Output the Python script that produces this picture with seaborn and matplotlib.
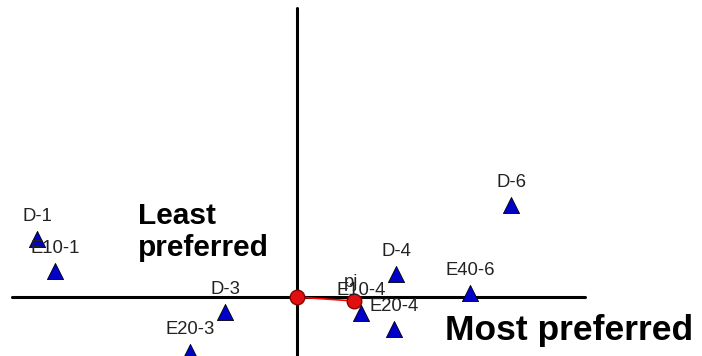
import matplotlib
matplotlib.use("Agg")
import matplotlib.pyplot as plt
import seaborn as sns
import pandas as pd

sns.set_theme(style="white")
plt.rcParams["font.family"] = ["Liberation Sans", "DejaVu Sans"]

# Alternatives positioned in the preference map
labels = ["D-1", "E10-1", "D-3", "E20-3", "D-4", "E40-6", "D-6", "E20-4", "E10-4"]
dim1 = [-2.60, -2.42, -0.72, -1.07, 0.99, 1.73, 2.14, 0.97, 0.64]
dim2 = [0.58, 0.26, -0.15, -0.55, 0.23, 0.04, 0.92, -0.32, -0.16]

# Ideal-point vector: origin and pj
vec_labels = ["", "pj"]
vec_x = [0.0, 0.57]
vec_y = [0.0, -0.04]

alts = pd.DataFrame({"label": labels, "x": dim1, "y": dim2})
vec = pd.DataFrame({"label": vec_labels, "x": vec_x, "y": vec_y})

fig = plt.figure(figsize=(7.02, 3.56), dpi=100)
ax = fig.add_axes([0, 0, 1, 1])
ax.set_xlim(-2.97, 4.05)
ax.set_ylim(-0.59, 2.97)
ax.axis("off")

# Axis cross
ax.plot([-2.85, 2.88], [0, 0], color="black", lw=2.2, zorder=1)
ax.plot([0, 0], [-0.59, 2.89], color="black", lw=2.2, zorder=1)

# Vector from origin to pj
sns.lineplot(data=vec, x="x", y="y", color="red", lw=1.2, ax=ax,
             sort=False, legend=False, zorder=2)
sns.scatterplot(data=vec, x="x", y="y", marker="o", s=110, color="#e01010",
                edgecolor="#8a0000", linewidth=1, ax=ax, zorder=3, legend=False)

sns.scatterplot(data=alts, x="x", y="y", marker="^", s=135, color="#0000c8",
                edgecolor="black", linewidth=0.6, ax=ax, zorder=4, legend=False)

for lab, x, y in zip(alts["label"], alts["x"], alts["y"]):
    ax.annotate(lab, (x, y), xytext=(0, 16), textcoords="offset points",
                ha="center", va="center", fontsize=13.3, color="#222222", zorder=5)
ax.annotate(vec_labels[1], (vec_x[1], vec_y[1]), xytext=(-2, 13),
            textcoords="offset points", ha="center", va="center",
            fontsize=13.3, color="#222222", zorder=5)

ax.text(-1.59, 0.65, "Least\npreferred", ha="left", va="center",
        multialignment="left", fontsize=21.5, fontweight="bold",
        color="black", linespacing=1.15)
ax.text(2.72, -0.335, "Most preferred", ha="center", va="center",
        fontsize=25.5, fontweight="bold", color="black")

fig.savefig("out.png", dpi=100)
